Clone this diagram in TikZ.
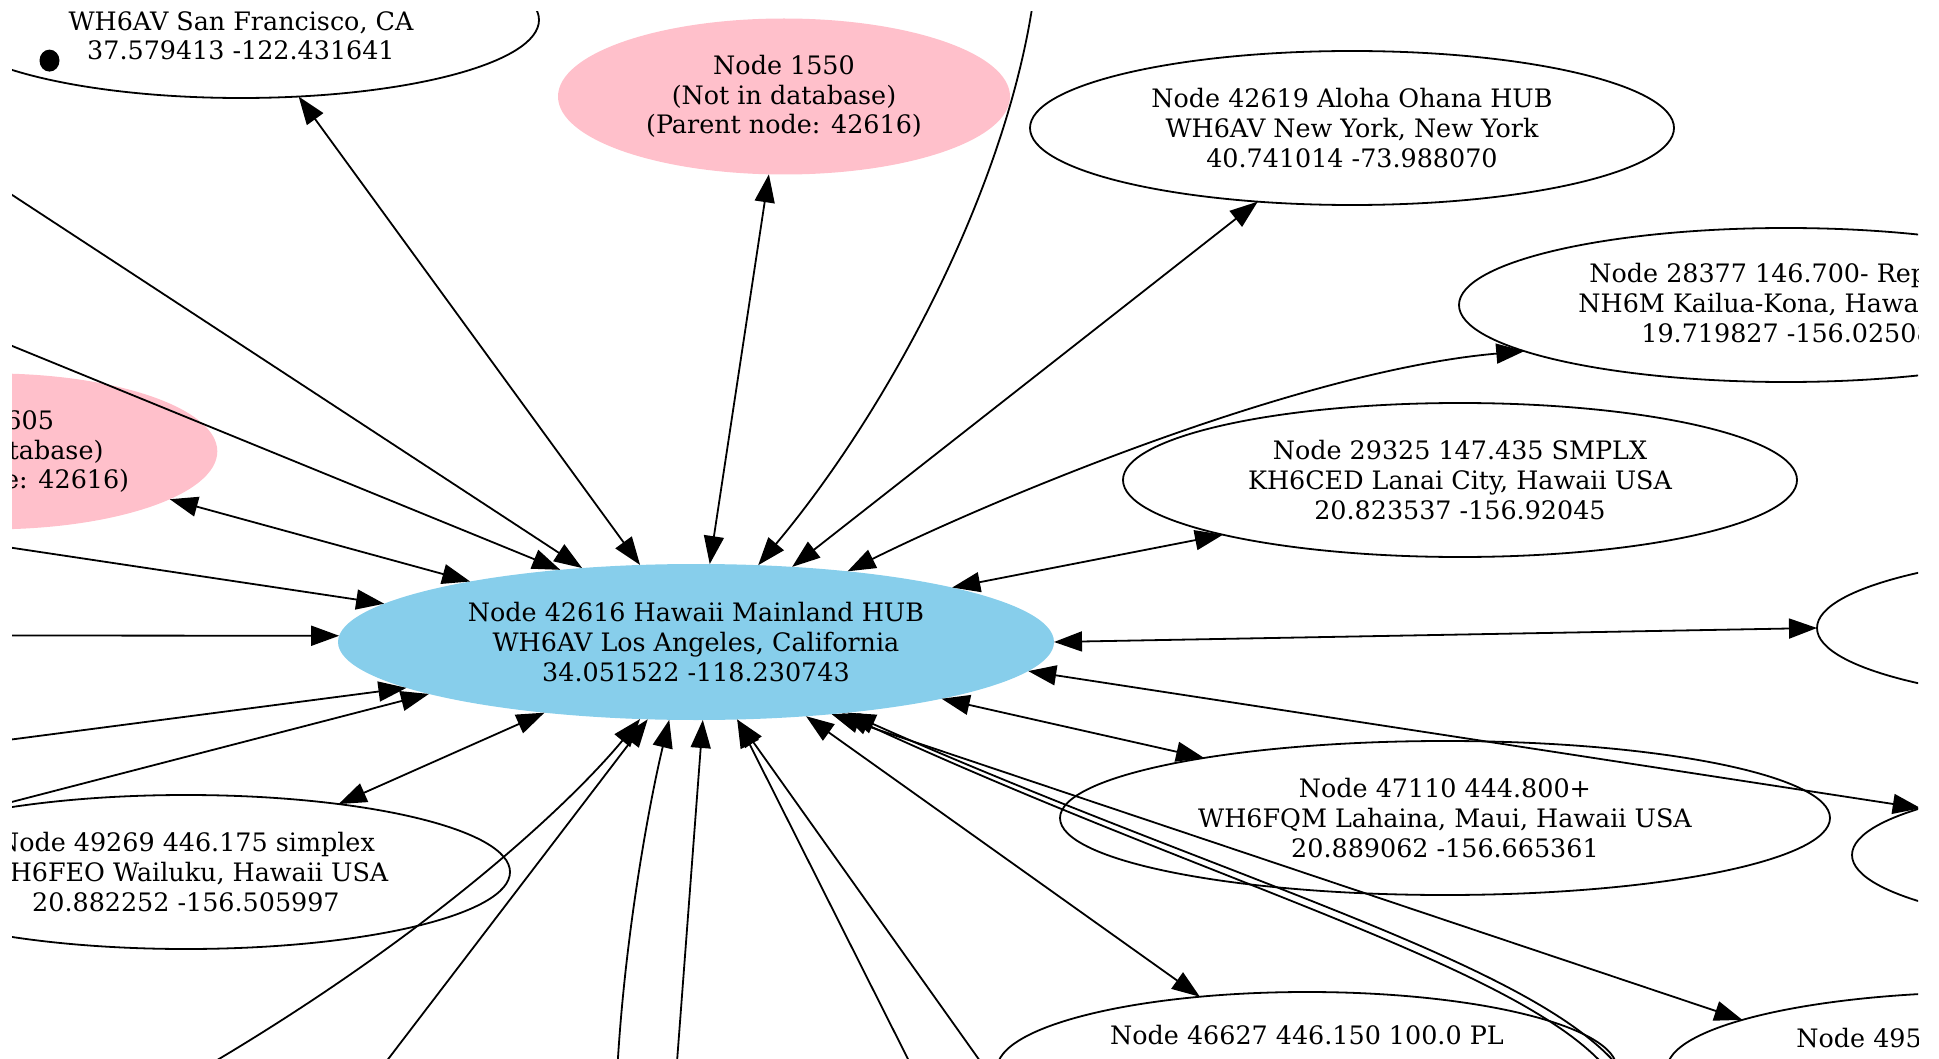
\documentclass[tikz,border=0pt]{standalone}
\usepackage{fontspec}
\setmainfont{DejaVu Serif}
\usetikzlibrary{shapes.geometric, arrows.meta}

\definecolor{hubblue}{HTML}{87CEEB}
\definecolor{ghostpink}{HTML}{FFC0CB}

\tikzset{
	site/.style={ellipse, draw, line width=0.9pt, inner sep=0pt, outer sep=0pt, align=center, font=\fontsize{12.7}{14.85}\selectfont, minimum height=77pt},
	mainhub/.style={site, draw=none, fill=hubblue, minimum height=78pt},
	ghost/.style={site, draw=none, fill=ghostpink, minimum height=78pt},
	cut/.style={inner sep=0pt, anchor=west, align=left, font=\fontsize{12.7}{14.85}\selectfont},
	link/.style={-{Triangle[length=14pt,width=10pt]}, line width=0.9pt},
	duplex/.style={{Triangle[length=14pt,width=10pt]}-{Triangle[length=14pt,width=10pt]}, line width=0.9pt},
}

\begin{document}
\begin{tikzpicture}[x=0.5pt, y=-0.5pt]
	\useasboundingbox (0,0) rectangle (1939,1059);
	\clip (12,12) rectangle (1918,1059);

	\node[mainhub, minimum width=358pt] (n42616) at (696,642) {Node 42616 Hawaii Mainland HUB\\WH6AV Los Angeles, California\\34.051522 -118.230743};

	\node[site, minimum width=298pt, minimum height=78pt] (nsf) at (241,20) {\strut\\WH6AV San Francisco, CA\\37.579413 -122.431641};
	\node[ellipse, fill, inner sep=0pt, minimum width=10pt, minimum height=11pt] (dot) at (49.5,60.6) {};
	\node[ghost, minimum width=226pt] (n1550) at (784,96.5) {Node 1550\\(Not in database)\\(Parent node: 42616)};
	\node[site, minimum width=322pt] (n42619) at (1352,128) {Node 42619 Aloha Ohana HUB\\WH6AV New York, New York\\40.741014 -73.988070};
	\node[site, minimum width=327pt] (n28377) at (1786,305) {};
	\node[cut] (n28377txt) at (1578,303) {\hspace*{5.5pt}Node 28377 146.700- Rep\\NH6M Kailua-Kona, Hawaii USA\\\hspace*{31.5pt}19.719827 -156.02508};
	\node[site, minimum width=337pt] (n29325) at (1460,480) {Node 29325 147.435 SMPLX\\KH6CED Lanai City, Hawaii USA\\20.823537 -156.92045};
	\node[site, minimum width=334pt] (nEast) at (2151,628) {};
	\node[site, minimum width=334pt] (nSouthEast) at (2186,855) {};
	\node[site, minimum width=385pt] (n47110) at (1445,818) {Node 47110 444.800+\\WH6FQM Lahaina, Maui, Hawaii USA\\20.889062 -156.665361};
	\node[site, minimum width=310pt] (n46627) at (1307,1069) {Node 46627 446.150 100.0 PL\\\strut\\\strut};
	\node[site, minimum width=328pt] (n495) at (1995,1069) {};
	\node[cut] (n495txt) at (1796,1038) {Node 495};
	\node[ghost, minimum width=226pt] (n605) at (-8.7,451.4) {Node 605\\(Not in database)\\(Parent node: 42616)};
	\node[site, minimum width=324pt] (n49269) at (186,872) {Node 49269 446.175 simplex\\WH6FEO Wailuku, Hawaii USA\\20.882252 -156.505997};

	% far ends of links to nodes outside the view
	\coordinate (west1) at (0,187);
	\coordinate (west2) at (0,341);
	\coordinate (west3) at (0,546);
	\coordinate (west4) at (0,635.5);
	\coordinate (west5) at (0,741);
	\coordinate (west6) at (0,805);
	\coordinate (north1) at (1034,-5);
	\coordinate (south1) at (197,1072);
	\coordinate (south2) at (376,1075);
	\coordinate (south3) at (617,1075);
	\coordinate (south4) at (676,1075);
	\coordinate (south5) at (916,1075);
	\coordinate (south6) at (990,1075);
	\coordinate (south7) at (1612,1075);
	\coordinate (south8) at (1625,1075);

	\draw[link] (west1) -- (n42616.147.6);
	\draw[link] (west2) -- (n42616.152.9);
	\draw[duplex] (n605.-15.1) -- (n42616.165);
	\draw[link] (west3) -- (n42616.173.7);
	\draw[link] (west4) -- (n42616.179.2);
	\draw[link] (west5) -- (n42616.-171.9);
	\draw[link] (west6) -- (n42616.-169.2);
	\draw[duplex] (n49269.24) -- (n42616.-155.6);
	\draw[link] (south1) .. controls (445,927) and (581,791) .. (n42616.-126.4);
	\draw[link] (south2) -- (n42616.-122.7);
	\draw[link] (south3) .. controls (624,940) and (649,804) .. (n42616.-109.7);
	\draw[link] (south4) -- (n42616.-85);
	\draw[link] (south5) -- (n42616.-62);
	\draw[link] (south6) -- (n42616.-62);
	\draw[duplex] (n46627.146.1) -- (n42616.-34.3);
	\draw[duplex] (n495.169.5) -- (n42616.-28.1);
	\draw[link] (south7) .. controls (1533,970) and (1212,884) .. (n42616.-26.9);
	\draw[link] (south8) .. controls (1546,965) and (1224,880) .. (n42616.-25.1);
	\draw[duplex] (n47110.166.1) -- (n42616.-13.7);
	\draw[duplex] (nSouthEast.170.3) -- (n42616.-5.1);
	\draw[duplex] (nEast.180) -- (n42616.0.6);
	\draw[duplex] (n29325.-167.6) -- (n42616.12.6);
	\draw[duplex] (n28377.-170.5) .. controls (1298,371) and (989,501) .. (n42616.25.9);
	\draw[duplex] (n42619.-142.1) -- (n42616.38.1);
	\draw[link] (north1) .. controls (1008,185) and (890,408) .. (n42616.51.1);
	\draw[duplex] (n1550.-101.6) -- (n42616.80.8);
	\draw[duplex] (nsf.-53.9) -- (n42616.126.7);
\end{tikzpicture}
\end{document}
